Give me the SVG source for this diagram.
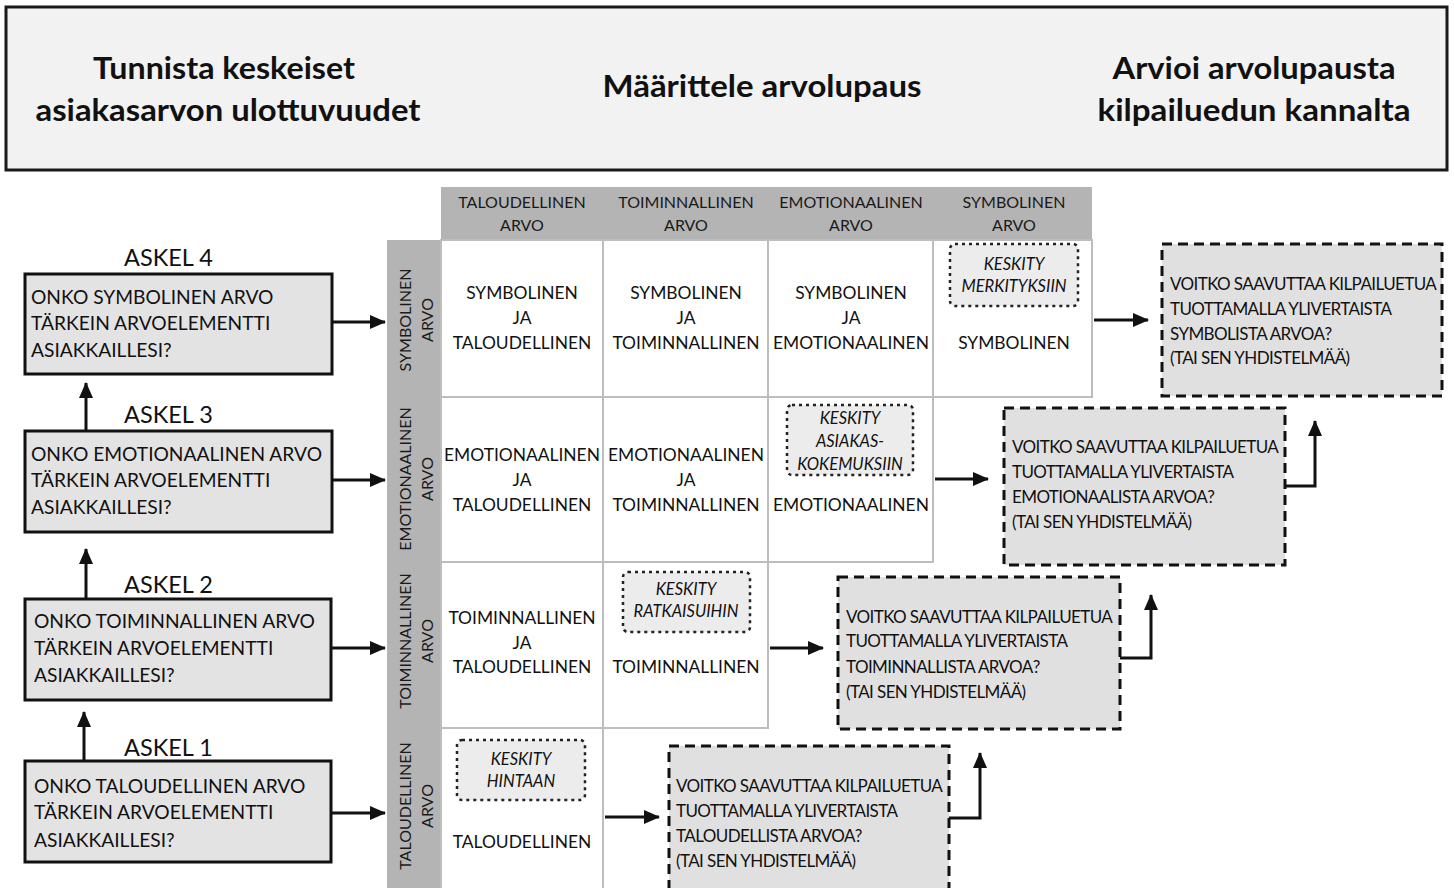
<svg xmlns="http://www.w3.org/2000/svg" width="1454" height="888" viewBox="0 0 1454 888">
  <defs>
    <marker id="arrow" markerUnits="userSpaceOnUse" markerWidth="16" markerHeight="16" refX="15" refY="8" orient="auto">
      <path d="M0,1 L16,8 L0,15 z" fill="#111"/>
    </marker>
    <style>
      .hdr { font-family: Lato, "Liberation Sans", sans-serif; font-weight: bold; font-size: 30px; fill: #111; text-anchor: middle; }
      .band { fill: #b4b4b4; }
      .bandtxt { font-family: Lato, "Liberation Sans", sans-serif; font-size: 16px; fill: #1a1a1a; text-anchor: middle; }
      .cell { fill: #fff; stroke: #bdbdbd; stroke-width: 2; }
      .celltxt { font-family: Lato, "Liberation Sans", sans-serif; font-size: 17.4px; fill: #111; text-anchor: middle; }
      .focus { fill: #ececec; stroke: #222; stroke-width: 2.5; stroke-dasharray: 3 4; }
      .focustxt { font-family: Lato, "Liberation Sans", sans-serif; font-size: 16.5px; font-style: italic; fill: #111; text-anchor: middle; }
      .step { fill: #e3e3e3; stroke: #111; stroke-width: 3; }
      .steptxt { font-family: Lato, "Liberation Sans", sans-serif; font-size: 19.2px; fill: #111; }
      .steplbl { font-family: Lato, "Liberation Sans", sans-serif; font-size: 23.5px; fill: #111; }
      .ask { fill: #e0e0e0; stroke: #111; stroke-width: 3; stroke-dasharray: 10 6; }
      .asktxt { font-family: Lato, "Liberation Sans", sans-serif; font-size: 17px; fill: #111; letter-spacing: -0.6px; }
      .conn { fill: none; stroke: #111; stroke-width: 3; }
    </style>
  </defs>
  <rect width="1454" height="888" fill="#fff"/>

  <!-- header banner -->
  <g id="header">
    <rect x="6" y="7" width="1441" height="163" fill="#f2f2f2" stroke="#1a1a1a" stroke-width="3"/>
    <text class="hdr" x="224" y="79" textLength="262" lengthAdjust="spacingAndGlyphs">Tunnista keskeiset</text>
    <text class="hdr" x="228" y="121" textLength="385" lengthAdjust="spacingAndGlyphs">asiakasarvon ulottuvuudet</text>
    <text class="hdr" x="762" y="97" textLength="319" lengthAdjust="spacingAndGlyphs">Määrittele arvolupaus</text>
    <text class="hdr" x="1254" y="79" textLength="283" lengthAdjust="spacingAndGlyphs">Arvioi arvolupausta</text>
    <text class="hdr" x="1254" y="121" textLength="313" lengthAdjust="spacingAndGlyphs">kilpailuedun kannalta</text>
  </g>

  <!-- value matrix -->
  <g id="matrix">
    <rect class="band" x="441" y="187" width="651" height="53"/>
    <rect class="band" x="387" y="240" width="54" height="650"/>
    <text class="bandtxt" x="522" y="208">TALOUDELLINEN</text>
    <text class="bandtxt" x="522" y="231">ARVO</text>
    <text class="bandtxt" x="686" y="208">TOIMINNALLINEN</text>
    <text class="bandtxt" x="686" y="231">ARVO</text>
    <text class="bandtxt" x="851" y="208">EMOTIONAALINEN</text>
    <text class="bandtxt" x="851" y="231">ARVO</text>
    <text class="bandtxt" x="1014" y="208">SYMBOLINEN</text>
    <text class="bandtxt" x="1014" y="231">ARVO</text>

    <text class="bandtxt" transform="translate(411,320) rotate(-90)">SYMBOLINEN</text>
    <text class="bandtxt" transform="translate(433,320) rotate(-90)">ARVO</text>
    <text class="bandtxt" transform="translate(411,479) rotate(-90)">EMOTIONAALINEN</text>
    <text class="bandtxt" transform="translate(433,479) rotate(-90)">ARVO</text>
    <text class="bandtxt" transform="translate(411,641) rotate(-90)">TOIMINNALLINEN</text>
    <text class="bandtxt" transform="translate(433,641) rotate(-90)">ARVO</text>
    <text class="bandtxt" transform="translate(411,806) rotate(-90)">TALOUDELLINEN</text>
    <text class="bandtxt" transform="translate(433,806) rotate(-90)">ARVO</text>
  </g>

  <g id="cell-sym-tal">
    <rect class="cell" x="441" y="240" width="162" height="157"/>
    <text class="celltxt" x="522" y="299">SYMBOLINEN</text>
    <text class="celltxt" x="522" y="324">JA</text>
    <text class="celltxt" x="522" y="349">TALOUDELLINEN</text>
  </g>
  <g id="cell-sym-toi">
    <rect class="cell" x="603" y="240" width="165" height="157"/>
    <text class="celltxt" x="686" y="299">SYMBOLINEN</text>
    <text class="celltxt" x="686" y="324">JA</text>
    <text class="celltxt" x="686" y="349">TOIMINNALLINEN</text>
  </g>
  <g id="cell-sym-emo">
    <rect class="cell" x="768" y="240" width="165" height="157"/>
    <text class="celltxt" x="851" y="299">SYMBOLINEN</text>
    <text class="celltxt" x="851" y="324">JA</text>
    <text class="celltxt" x="851" y="349">EMOTIONAALINEN</text>
  </g>
  <g id="cell-sym">
    <rect class="cell" x="933" y="240" width="159" height="157"/>
    <rect class="focus" x="950" y="244" width="128" height="62" rx="5"/>
    <text class="focustxt" x="1014" y="270">KESKITY</text>
    <text class="focustxt" x="1014" y="292">MERKITYKSIIN</text>
    <text class="celltxt" x="1014" y="349">SYMBOLINEN</text>
  </g>

  <g id="cell-emo-tal">
    <rect class="cell" x="441" y="397" width="162" height="165"/>
    <text class="celltxt" x="522" y="461">EMOTIONAALINEN</text>
    <text class="celltxt" x="522" y="486">JA</text>
    <text class="celltxt" x="522" y="511">TALOUDELLINEN</text>
  </g>
  <g id="cell-emo-toi">
    <rect class="cell" x="603" y="397" width="165" height="165"/>
    <text class="celltxt" x="686" y="461">EMOTIONAALINEN</text>
    <text class="celltxt" x="686" y="486">JA</text>
    <text class="celltxt" x="686" y="511">TOIMINNALLINEN</text>
  </g>
  <g id="cell-emo">
    <rect class="cell" x="768" y="397" width="165" height="165"/>
    <rect class="focus" x="787" y="405" width="126" height="70" rx="5"/>
    <text class="focustxt" x="850" y="424">KESKITY</text>
    <text class="focustxt" x="850" y="447">ASIAKAS-</text>
    <text class="focustxt" x="850" y="470">KOKEMUKSIIN</text>
    <text class="celltxt" x="851" y="511">EMOTIONAALINEN</text>
  </g>

  <g id="cell-toi-tal">
    <rect class="cell" x="441" y="562" width="162" height="166"/>
    <text class="celltxt" x="522" y="624">TOIMINNALLINEN</text>
    <text class="celltxt" x="522" y="649">JA</text>
    <text class="celltxt" x="522" y="673">TALOUDELLINEN</text>
  </g>
  <g id="cell-toi">
    <rect class="cell" x="603" y="562" width="165" height="166"/>
    <rect class="focus" x="623" y="572" width="127" height="60" rx="5"/>
    <text class="focustxt" x="686" y="595">KESKITY</text>
    <text class="focustxt" x="686" y="617">RATKAISUIHIN</text>
    <text class="celltxt" x="686" y="673">TOIMINNALLINEN</text>
  </g>

  <g id="cell-tal">
    <rect class="cell" x="441" y="728" width="162" height="164"/>
    <rect class="focus" x="457" y="740" width="128" height="60" rx="5"/>
    <text class="focustxt" x="521" y="765">KESKITY</text>
    <text class="focustxt" x="521" y="787">HINTAAN</text>
    <text class="celltxt" x="522" y="848">TALOUDELLINEN</text>
  </g>

  <!-- step questions -->
  <g id="step4">
    <text class="steplbl" x="124" y="266">ASKEL 4</text>
    <rect class="step" x="25" y="274" width="307" height="100"/>
    <text class="steptxt" x="31" y="304">ONKO SYMBOLINEN ARVO</text>
    <text class="steptxt" x="31" y="330">TÄRKEIN ARVOELEMENTTI</text>
    <text class="steptxt" x="31" y="357">ASIAKKAILLESI?</text>
  </g>
  <g id="step3">
    <text class="steplbl" x="124" y="423">ASKEL 3</text>
    <rect class="step" x="25" y="431" width="307" height="101"/>
    <text class="steptxt" x="31" y="461">ONKO EMOTIONAALINEN ARVO</text>
    <text class="steptxt" x="31" y="487">TÄRKEIN ARVOELEMENTTI</text>
    <text class="steptxt" x="31" y="514">ASIAKKAILLESI?</text>
  </g>
  <g id="step2">
    <text class="steplbl" x="124" y="593">ASKEL 2</text>
    <rect class="step" x="25" y="599" width="306" height="101"/>
    <text class="steptxt" x="34" y="628">ONKO TOIMINNALLINEN ARVO</text>
    <text class="steptxt" x="34" y="655">TÄRKEIN ARVOELEMENTTI</text>
    <text class="steptxt" x="34" y="682">ASIAKKAILLESI?</text>
  </g>
  <g id="step1">
    <text class="steplbl" x="124" y="756">ASKEL 1</text>
    <rect class="step" x="25" y="761" width="306" height="101"/>
    <text class="steptxt" x="34" y="793">ONKO TALOUDELLINEN ARVO</text>
    <text class="steptxt" x="34" y="819">TÄRKEIN ARVOELEMENTTI</text>
    <text class="steptxt" x="34" y="847">ASIAKKAILLESI?</text>
  </g>

  <!-- competitive advantage questions -->
  <g id="adv-sym">
    <rect class="ask" x="1162" y="244" width="280" height="152"/>
    <text class="asktxt" x="1170" y="290">VOITKO SAAVUTTAA KILPAILUETUA</text>
    <text class="asktxt" x="1170" y="315">TUOTTAMALLA YLIVERTAISTA</text>
    <text class="asktxt" x="1170" y="340">SYMBOLISTA ARVOA?</text>
    <text class="asktxt" x="1170" y="364">(TAI SEN YHDISTELMÄÄ)</text>
  </g>
  <g id="adv-emo">
    <rect class="ask" x="1004" y="408" width="281" height="157"/>
    <text class="asktxt" x="1012" y="453">VOITKO SAAVUTTAA KILPAILUETUA</text>
    <text class="asktxt" x="1012" y="478">TUOTTAMALLA YLIVERTAISTA</text>
    <text class="asktxt" x="1012" y="503">EMOTIONAALISTA ARVOA?</text>
    <text class="asktxt" x="1012" y="528">(TAI SEN YHDISTELMÄÄ)</text>
  </g>
  <g id="adv-toi">
    <rect class="ask" x="838" y="577" width="282" height="152"/>
    <text class="asktxt" x="846" y="623">VOITKO SAAVUTTAA KILPAILUETUA</text>
    <text class="asktxt" x="846" y="647">TUOTTAMALLA YLIVERTAISTA</text>
    <text class="asktxt" x="846" y="673">TOIMINNALLISTA ARVOA?</text>
    <text class="asktxt" x="846" y="698">(TAI SEN YHDISTELMÄÄ)</text>
  </g>
  <g id="adv-tal">
    <rect class="ask" x="669" y="746" width="280" height="152"/>
    <text class="asktxt" x="676" y="792">VOITKO SAAVUTTAA KILPAILUETUA</text>
    <text class="asktxt" x="676" y="817">TUOTTAMALLA YLIVERTAISTA</text>
    <text class="asktxt" x="676" y="842">TALOUDELLISTA ARVOA?</text>
    <text class="asktxt" x="676" y="867">(TAI SEN YHDISTELMÄÄ)</text>
  </g>

  <!-- connectors -->
  <g id="connectors">
    <line class="conn" x1="86" y1="431" x2="86" y2="383" marker-end="url(#arrow)"/>
    <line class="conn" x1="86" y1="599" x2="86" y2="549" marker-end="url(#arrow)"/>
    <line class="conn" x1="84" y1="761" x2="84" y2="712" marker-end="url(#arrow)"/>

    <line class="conn" x1="332" y1="322" x2="385" y2="322" marker-end="url(#arrow)"/>
    <line class="conn" x1="332" y1="480" x2="385" y2="480" marker-end="url(#arrow)"/>
    <line class="conn" x1="331" y1="648" x2="385" y2="648" marker-end="url(#arrow)"/>
    <line class="conn" x1="331" y1="813" x2="385" y2="813" marker-end="url(#arrow)"/>

    <line class="conn" x1="1094" y1="320" x2="1148" y2="320" marker-end="url(#arrow)"/>
    <line class="conn" x1="935" y1="479" x2="988" y2="479" marker-end="url(#arrow)"/>
    <line class="conn" x1="770" y1="648" x2="823" y2="648" marker-end="url(#arrow)"/>
    <line class="conn" x1="605" y1="817" x2="659" y2="817" marker-end="url(#arrow)"/>

    <path class="conn" d="M1285,486 H1315 V421" marker-end="url(#arrow)"/>
    <path class="conn" d="M1120,658 H1151 V595" marker-end="url(#arrow)"/>
    <path class="conn" d="M949,818 H980 V753" marker-end="url(#arrow)"/>
  </g>
</svg>
